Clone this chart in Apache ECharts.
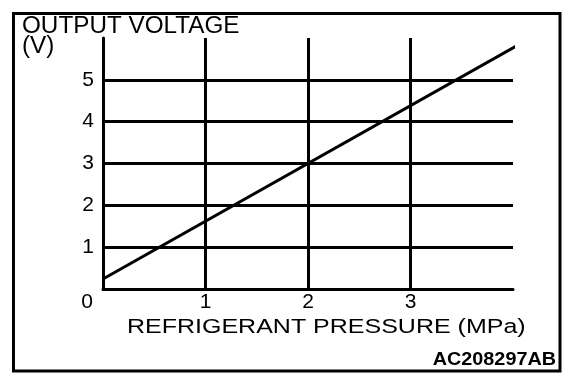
<!DOCTYPE html>
<html><head><meta charset="utf-8">
<script src="https://cdn.jsdelivr.net/npm/echarts@6/dist/echarts.min.js"></script>
<style>html,body{margin:0;padding:0;background:#fff}#c{width:576px;height:382px}</style>
</head><body><div id="c"></div>
<script>
const pressure = [0, 4.04];
const voltage = [0.24, 5.82];
const xTickLabels = {0: '0', 1: '1', 2: '2', 3: '3'};
const yTickLabels = {1: '1', 2: '2', 3: '3', 4: '4', 5: '5'};
const yAxisTitle = ['OUTPUT VOLTAGE', '(V)'];
const xAxisTitle = 'REFRIGERANT PRESSURE (MPa)';
const figureCode = 'AC208297AB';

const FONT = '"Liberation Sans", Arial, Helvetica, sans-serif';
const chart = echarts.init(document.getElementById('c'), null, {renderer: 'canvas'});
const axisLine = {show: true, onZero: false, lineStyle: {color: '#000', width: 3}};
const splitLine = {show: true, showMinLine: false, showMaxLine: false, lineStyle: {color: '#000', width: 3}};
chart.setOption({
  animation: false,
  backgroundColor: '#fff',
  grid: {left: 103, top: 38, width: 410, height: 251},
  xAxis: {
    type: 'value', min: 0, max: 4, interval: 1,
    axisLine: axisLine, axisTick: {show: false}, splitLine: splitLine,
    axisLabel: {
      color: '#000', fontSize: 21, fontFamily: FONT, margin: 3,
      formatter: v => v === 0 ? '{z|' + xTickLabels[0] + '}' : (xTickLabels[v] || ''),
      rich: {z: {fontSize: 21, fontFamily: FONT, color: '#000', padding: [0, 32, 0, 0]}}
    }
  },
  yAxis: {
    type: 'value', min: 0, max: 6, interval: 1,
    axisLine: axisLine, axisTick: {show: false}, splitLine: splitLine,
    axisLabel: {
      color: '#000', fontSize: 21, fontFamily: FONT, margin: 9,
      formatter: v => yTickLabels[v] || ''
    }
  },
  series: [{
    type: 'line', data: pressure.map((p, i) => [p, voltage[i]]),
    showSymbol: false, symbol: 'none', clip: false, silent: true,
    lineStyle: {color: '#000', width: 3}
  }],
  graphic: [
    {type: 'rect', shape: {x: 13.5, y: 13.5, width: 546.5, height: 357.5}, style: {fill: null, stroke: '#000', lineWidth: 3}, silent: true},
    {type: 'text', x: 22, y: 27, scaleX: 1.055, style: {text: yAxisTitle[0], font: '23px ' + FONT, fill: '#000', textAlign: 'left', textVerticalAlign: 'middle'}},
    {type: 'text', x: 22, y: 47, scaleX: 1.055, style: {text: yAxisTitle[1], font: '23px ' + FONT, fill: '#000', textAlign: 'left', textVerticalAlign: 'middle'}},
    {type: 'text', x: 127, y: 327, scaleX: 1.25, style: {text: xAxisTitle, font: '20px ' + FONT, fill: '#000', textAlign: 'left', textVerticalAlign: 'middle'}},
    {type: 'text', x: 556, y: 360.5, scaleX: 1.1, style: {text: figureCode, font: 'bold 18px ' + FONT, fill: '#000', textAlign: 'right', textVerticalAlign: 'middle'}}
  ]
});
</script>
</body></html>
